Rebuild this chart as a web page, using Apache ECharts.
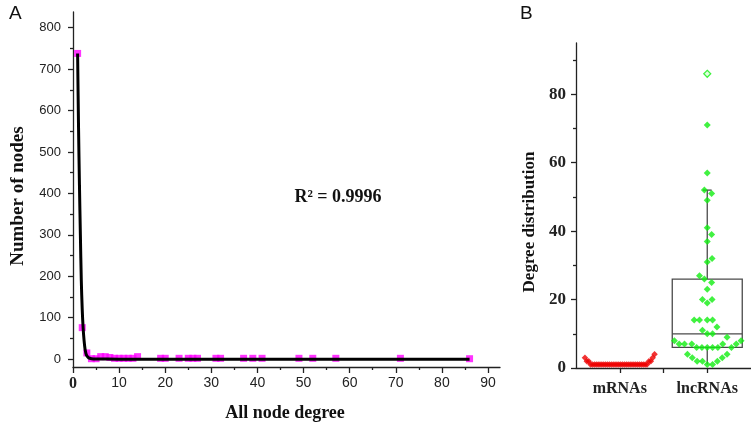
<!DOCTYPE html>
<html><head><meta charset="utf-8">
<script src="https://cdn.jsdelivr.net/npm/echarts@6/dist/echarts.min.js"></script>
<style>html,body{margin:0;padding:0;background:#fff}#c{width:751px;height:429px}</style>
</head><body><div id="c"></div>
<script>
// ---------- Panel A data ----------
const degreeX   = [1,2,3,4,5,6,7,8,9,10,11,12,13,14,19,20,23,25,26,27,31,32,37,39,41,49,52,57,71,86];
const nodeCount = [738,76,15,1,1,6,6,4,2,2,2,2,2,6,2,2,2,2,2,2,2,2,2,2,2,2,2,2,2,1];
const fitX = [1,1.2,1.4,1.6,1.8,2.0,2.2,2.4,2.6,2.8,3.0,3.4,4,5,10,30,86];
const fitY = [738,560,420,300,190,120,75,45,25,14,8,3,1,0.3,0,0,0];
const xTicksA = [0,10,20,30,40,50,60,70,80,90];
const xMinorA = [5,15,25,35,45,55,65,75,85];
const yTicksA = [0,100,200,300,400,500,600,700,800];
const yMinorA = [50,150,250,350,450,550,650,750];
// ---------- Panel B data ----------
const categoriesB = ['mRNAs','lncRNAs'];
const mrnaDegree = [3,2,2,1,1,1,1,1,1,1,1,1,1,1,1,1,1,1,1,1,1,1,1,1,1,1,1,1,1,1,1,1,1,1,2,2,3,4];
const lncDegree = [86,71,57,52,51,49,41,39,37,32,31,27,26,25,23,20,20,19,14,14,14,14,12,11,10,10,9,8,8,7,7,7,7,7,6,6,6,6,6,6,4,4,3,3,2,2,2,1,1];
const lncBox = [1,6,10,26,52]; // lower whisker, Q1, median, Q3, upper whisker
const yTicksB = [0,20,40,60,80];
const yMinorB = [10,30,50,70,90];

const SERIF = 'Liberation Serif', SANS = 'Liberation Sans';
const chart = echarts.init(document.getElementById('c'));

// layout helpers (positions computed from the values, in pixels of panel B)
const PX_PER_X = 181/4, PX_PER_Y = 325/95;
function mrnaLayout(vals, center){
  const n = vals.length, span = 72;
  return vals.map((v,i)=>[center + ((i-(n-1)/2)*span/(n-1))/PX_PER_X, v]);
}
function beeswarm(vals, center, a, b){
  const sorted = vals.slice().sort((p,q)=>p-q);
  const placed = [];
  sorted.forEach(v=>{
    const py = v*PX_PER_Y;
    let best = null;
    for(let k=0;k<400 && best===null;k++){
      const cands = k===0 ? [0] : [k*0.5, -k*0.5];
      for(const off of cands){
        const ok = placed.every(p=>{const dx=(p[0]-off)/a, dy=(p[1]-py)/b; return dx*dx+dy*dy >= 1;});
        if(ok){best=off;break;}
      }
    }
    placed.push([best,py,v]);
  });
  return placed.map(p=>p[2]===86 ? {value:[center+p[0]/PX_PER_X,p[2]], itemStyle:{color:'#d8ffd8',borderColor:'#11ee11',borderWidth:1.2}} : [center+p[0]/PX_PER_X,p[2]]);
}
const catPos = categoriesB.map((c,i)=>2*i+1);

const axisTxtA = {color:'#222', fontFamily:SANS, fontSize:13};
const lineStyle = {color:'#222', width:1.3};

chart.setOption({
  animation:false,
  grid:[
    {left:73, top:12, width:427, height:355},
    {left:576, top:43, width:181, height:325}
  ],
  xAxis:[
    {type:'value', gridIndex:0, min:0, max:92.6, position:'bottom',
     axisLine:{onZero:false, lineStyle}, splitLine:{show:false},
     axisTick:{customValues:xTicksA, length:6, lineStyle},
     axisLabel:{customValues:xTicksA, margin:9, color:'#222', fontFamily:SANS, fontSize:14,
       formatter:v=> v===0 ? '{z|0}' : String(v), rich:{z:{fontFamily:SERIF,fontWeight:'bold',fontSize:16,color:'#222'}}}},
    {type:'value', gridIndex:0, min:0, max:92.6, position:'bottom',
     axisLine:{show:false, onZero:false}, splitLine:{show:false}, axisLabel:{show:false},
     axisTick:{customValues:xMinorA, length:3, lineStyle}},
    {type:'value', gridIndex:1, min:0, max:4, position:'bottom',
     axisLine:{onZero:false, lineStyle}, splitLine:{show:false},
     axisTick:{customValues:[1,2,3], length:5, lineStyle},
     axisLabel:{customValues:catPos, margin:13, color:'#222', fontFamily:SERIF, fontWeight:'bold', fontSize:16,
       formatter:v=>categoriesB[(v-1)/2]}}
  ],
  yAxis:[
    {type:'value', gridIndex:0, min:-19, max:838, position:'left',
     axisLine:{show:true, onZero:false, lineStyle}, splitLine:{show:false},
     axisTick:{show:true, customValues:yTicksA, length:5, lineStyle},
     axisLabel:Object.assign({customValues:yTicksA, margin:12}, axisTxtA)},
    {type:'value', gridIndex:0, min:-19, max:838, position:'left',
     axisLine:{show:false, onZero:false}, splitLine:{show:false}, axisLabel:{show:false},
     axisTick:{show:true, customValues:yMinorA, length:3, lineStyle}},
    {type:'value', gridIndex:1, min:0, max:95, position:'left',
     axisLine:{show:true, onZero:false, lineStyle}, splitLine:{show:false},
     axisTick:{show:true, customValues:yTicksB, length:5, lineStyle},
     axisLabel:{customValues:yTicksB, margin:10, color:'#222', fontFamily:SERIF, fontWeight:'bold', fontSize:17}},
    {type:'value', gridIndex:1, min:0, max:95, position:'left',
     axisLine:{show:false, onZero:false}, splitLine:{show:false}, axisLabel:{show:false},
     axisTick:{show:true, customValues:yMinorB, length:3, lineStyle}}
  ],
  series:[
    {type:'scatter', xAxisIndex:0, yAxisIndex:0, symbol:'rect', symbolSize:7, z:2,
     itemStyle:{color:'#ff00ff'}, data:degreeX.map((x,i)=>[x,nodeCount[i]])},
    {type:'line', xAxisIndex:0, yAxisIndex:0, showSymbol:false, symbol:'none', smooth:0.3, z:3,
     lineStyle:{color:'#000', width:3}, data:fitX.map((x,i)=>[x,fitY[i]])},
    {type:'custom', xAxisIndex:2, yAxisIndex:2, z:1,
     data:[[catPos[1], ...lncBox]],
     renderItem:(params, api)=>{
       const x=api.value(0);
       const pMin=api.coord([x,api.value(1)]), pQ1=api.coord([x,api.value(2)]), pMd=api.coord([x,api.value(3)]),
             pQ3=api.coord([x,api.value(4)]), pMax=api.coord([x,api.value(5)]);
       const hw = api.size([1.6,0])[0]/2, cap = api.size([0.2,0])[0]/2;
       const st = {stroke:'#4a4a4a', lineWidth:1.3, fill:'none'};
       return {type:'group', children:[
         {type:'rect', shape:{x:pQ3[0]-hw, y:pQ3[1], width:2*hw, height:pQ1[1]-pQ3[1]}, style:st},
         {type:'line', shape:{x1:pMd[0]-hw,y1:pMd[1],x2:pMd[0]+hw,y2:pMd[1]}, style:st},
         {type:'line', shape:{x1:pQ3[0],y1:pQ3[1],x2:pMax[0],y2:pMax[1]}, style:st},
         {type:'line', shape:{x1:pMax[0]-cap,y1:pMax[1],x2:pMax[0]+cap,y2:pMax[1]}, style:st},
         {type:'line', shape:{x1:pQ1[0],y1:pQ1[1],x2:pMin[0],y2:pMin[1]}, style:st}
       ]};
     }},
    {type:'scatter', xAxisIndex:2, yAxisIndex:2, symbol:'diamond', symbolSize:6.5, z:2,
     itemStyle:{color:'#ee0000'}, data:mrnaLayout(mrnaDegree, catPos[0])},
    {type:'scatter', xAxisIndex:2, yAxisIndex:2, symbol:'diamond', symbolSize:7, z:2,
     itemStyle:{color:'#11ee11'}, data:beeswarm(lncDegree, catPos[1], 5.2, 12)}
  ],
  graphic:[
    {type:'text', left:9, top:4, style:{text:'A', fontFamily:SANS, fontSize:19, fill:'#111'}},
    {type:'text', left:520, top:4, style:{text:'B', fontFamily:SANS, fontSize:19, fill:'#111'}},
    {type:'text', x:18, y:196, rotation:Math.PI/2, style:{text:'Number of nodes', fontFamily:SERIF, fontWeight:'bold', fontSize:19, fill:'#111', align:'center', verticalAlign:'middle'}},
    {type:'text', x:285, y:413, style:{text:'All node degree', fontFamily:SERIF, fontWeight:'bold', fontSize:18, fill:'#111', align:'center', verticalAlign:'middle'}},
    {type:'text', x:338, y:197, style:{text:'R² = 0.9996', fontFamily:SERIF, fontWeight:'bold', fontSize:18, fill:'#111', align:'center', verticalAlign:'middle'}},
    {type:'text', x:530, y:222, rotation:Math.PI/2, style:{text:'Degree distribution', fontFamily:SERIF, fontWeight:'bold', fontSize:17, fill:'#111', align:'center', verticalAlign:'middle'}}
  ]
});
</script></body></html>
